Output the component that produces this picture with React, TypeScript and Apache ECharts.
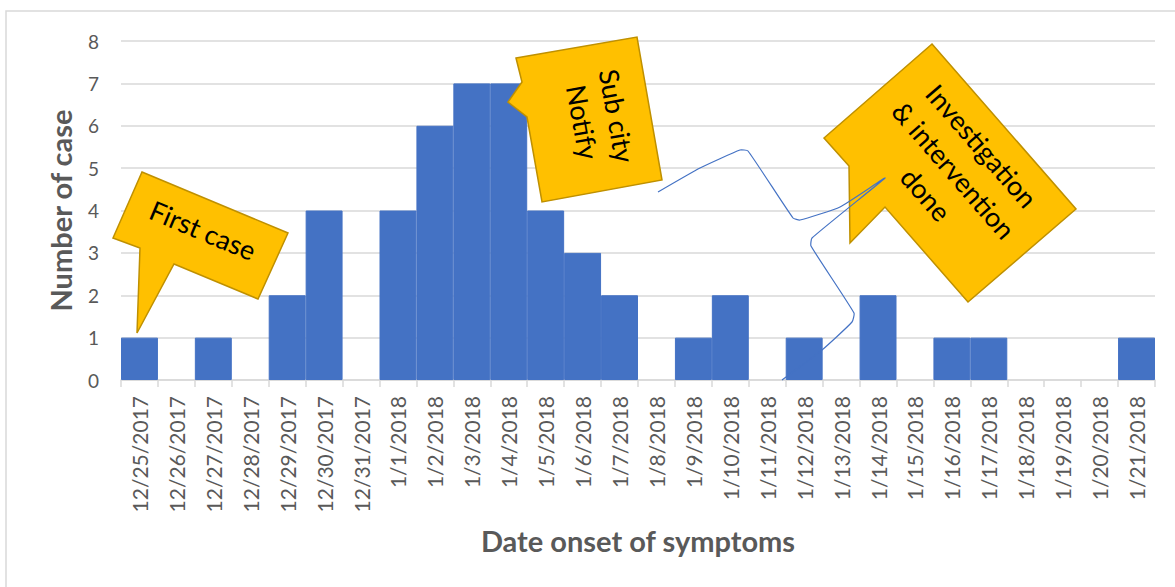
import React, { useEffect, useRef } from "react";
import * as echarts from "echarts";

const categories = [
  "12/25/2017", "12/26/2017", "12/27/2017", "12/28/2017", "12/29/2017", "12/30/2017", "12/31/2017",
  "1/1/2018", "1/2/2018", "1/3/2018", "1/4/2018", "1/5/2018", "1/6/2018", "1/7/2018",
  "1/8/2018", "1/9/2018", "1/10/2018", "1/11/2018", "1/12/2018", "1/13/2018", "1/14/2018",
  "1/15/2018", "1/16/2018", "1/17/2018", "1/18/2018", "1/19/2018", "1/20/2018", "1/21/2018",
];
const cases = [1, 0, 1, 0, 2, 4, 0, 4, 6, 7, 7, 4, 3, 2, 0, 1, 2, 0, 1, 0, 2, 0, 1, 1, 0, 0, 0, 1];
const yTicks = { min: 0, max: 8, interval: 1 };
const yTitle = "Number of case";
const xTitle = "Date onset of symptoms";
const notes = ["First case", "Sub city\nNotify", "Investigation\n& intervention\ndone"];

const FONT = "Lato, 'Open Sans', sans-serif";
const CALL_FILL = "#FFC000";
const CALL_STROKE = "#BF9000";
const BAR = "#4472C4";

export default function App() {
  const ref = useRef<HTMLDivElement>(null);
  useEffect(() => {
    if (!ref.current) return;
    const chart = echarts.init(ref.current, null, { renderer: "svg" });
    chart.setOption({
      animation: false,
      backgroundColor: "#ffffff",
      grid: { left: 121, right: 20, top: 41, bottom: 207, containLabel: false },
      xAxis: {
        type: "category",
        data: categories,
        name: xTitle,
        nameLocation: "middle",
        nameGap: 146,
        nameTextStyle: { fontFamily: FONT, fontSize: 29, fontWeight: "bold", color: "#595959" },
        axisLine: { lineStyle: { color: "#D9D9D9", width: 1.5 } },
        axisTick: { show: true, alignWithLabel: false, length: 7, lineStyle: { color: "#D9D9D9", width: 1.5 } },
        axisLabel: { rotate: 90, interval: 0, margin: 16, fontFamily: FONT, fontSize: 21, color: "#595959" },
      },
      yAxis: {
        type: "value",
        min: yTicks.min,
        max: yTicks.max,
        interval: yTicks.interval,
        name: yTitle,
        nameLocation: "middle",
        nameGap: 46,
        nameRotate: 90,
        nameTextStyle: { fontFamily: FONT, fontSize: 29, fontWeight: "bold", color: "#595959" },
        axisLine: { show: false },
        axisTick: { show: false },
        splitLine: { lineStyle: { color: "#D9D9D9", width: 1.5 } },
        axisLabel: { margin: 22, fontFamily: FONT, fontSize: 19, color: "#595959" },
      },
      series: [
        {
          type: "bar",
          data: cases.map((v) => ({
            value: v,
            itemStyle: v === 0 ? { borderWidth: 0 } : { borderWidth: 1 },
          })),
          barCategoryGap: "0%",
          itemStyle: { color: BAR, borderColor: BAR },
          z: 2,
        },
      ],
      graphic: [
        {
          type: "polyline",
          silent: true,
          shape: {
            points: [[6, 600], [6, 11], [1180, 11]],
          },
          style: { stroke: "#D9D9D9", lineWidth: 1.5, fill: "none" },
          z: 1,
        },
        {
          type: "polygon",
          shape: {
            points: [[142, 172], [288, 233], [258, 299], [174, 264], [137, 333], [140, 248], [113, 238]],
          },
          style: { fill: CALL_FILL, stroke: CALL_STROKE, lineWidth: 1.5 },
          z: 10,
        },
        {
          type: "text",
          x: 203,
          y: 230,
          rotation: (-22.8 * Math.PI) / 180,
          style: {
            text: notes[0],
            fontFamily: FONT,
            fontSize: 27,
            fill: "#000000",
            align: "center",
            verticalAlign: "middle",
          },
          z: 11,
        },
        {
          type: "polygon",
          shape: {
            points: [[516, 58], [637, 37], [662, 180], [542, 202], [527, 117], [508, 102], [522, 82]],
          },
          style: { fill: CALL_FILL, stroke: CALL_STROKE, lineWidth: 1.5 },
          z: 10,
        },
        {
          type: "text",
          x: 600,
          y: 119,
          rotation: (-79.8 * Math.PI) / 180,
          style: {
            text: notes[1],
            fontFamily: FONT,
            fontSize: 27,
            lineHeight: 35,
            fill: "#000000",
            align: "center",
            verticalAlign: "middle",
          },
          z: 11,
        },
        {
          type: "polygon",
          shape: {
            points: [[932, 44], [1076, 209], [968, 302], [885, 207], [850, 243], [849, 166], [824, 138]],
          },
          style: { fill: CALL_FILL, stroke: CALL_STROKE, lineWidth: 1.5 },
          z: 10,
        },
        {
          type: "text",
          x: 954,
          y: 170,
          rotation: (-48.9 * Math.PI) / 180,
          style: {
            text: notes[2],
            fontFamily: FONT,
            fontSize: 27,
            lineHeight: 37,
            fill: "#000000",
            align: "center",
            verticalAlign: "middle",
          },
          z: 11,
        },
        {
          type: "polyline",
          silent: true,
          shape: {
            points: [
              [658, 192], [700, 168], [740, 150], [748, 151], [793, 218], [800, 220], [840, 207], [885, 178],
              [812, 238], [811, 246], [854, 313], [852, 322], [822, 350], [782, 380],
            ],
            smooth: 0.15,
          },
          style: { stroke: BAR, lineWidth: 1.2, fill: "none" },
          z: 12,
        },
      ],
    });
    return () => chart.dispose();
  }, []);
  return (
    <div
      ref={ref}
      style={{ position: "absolute", left: 0, top: 0, width: 1175, height: 587 }}
    />
  );
}
